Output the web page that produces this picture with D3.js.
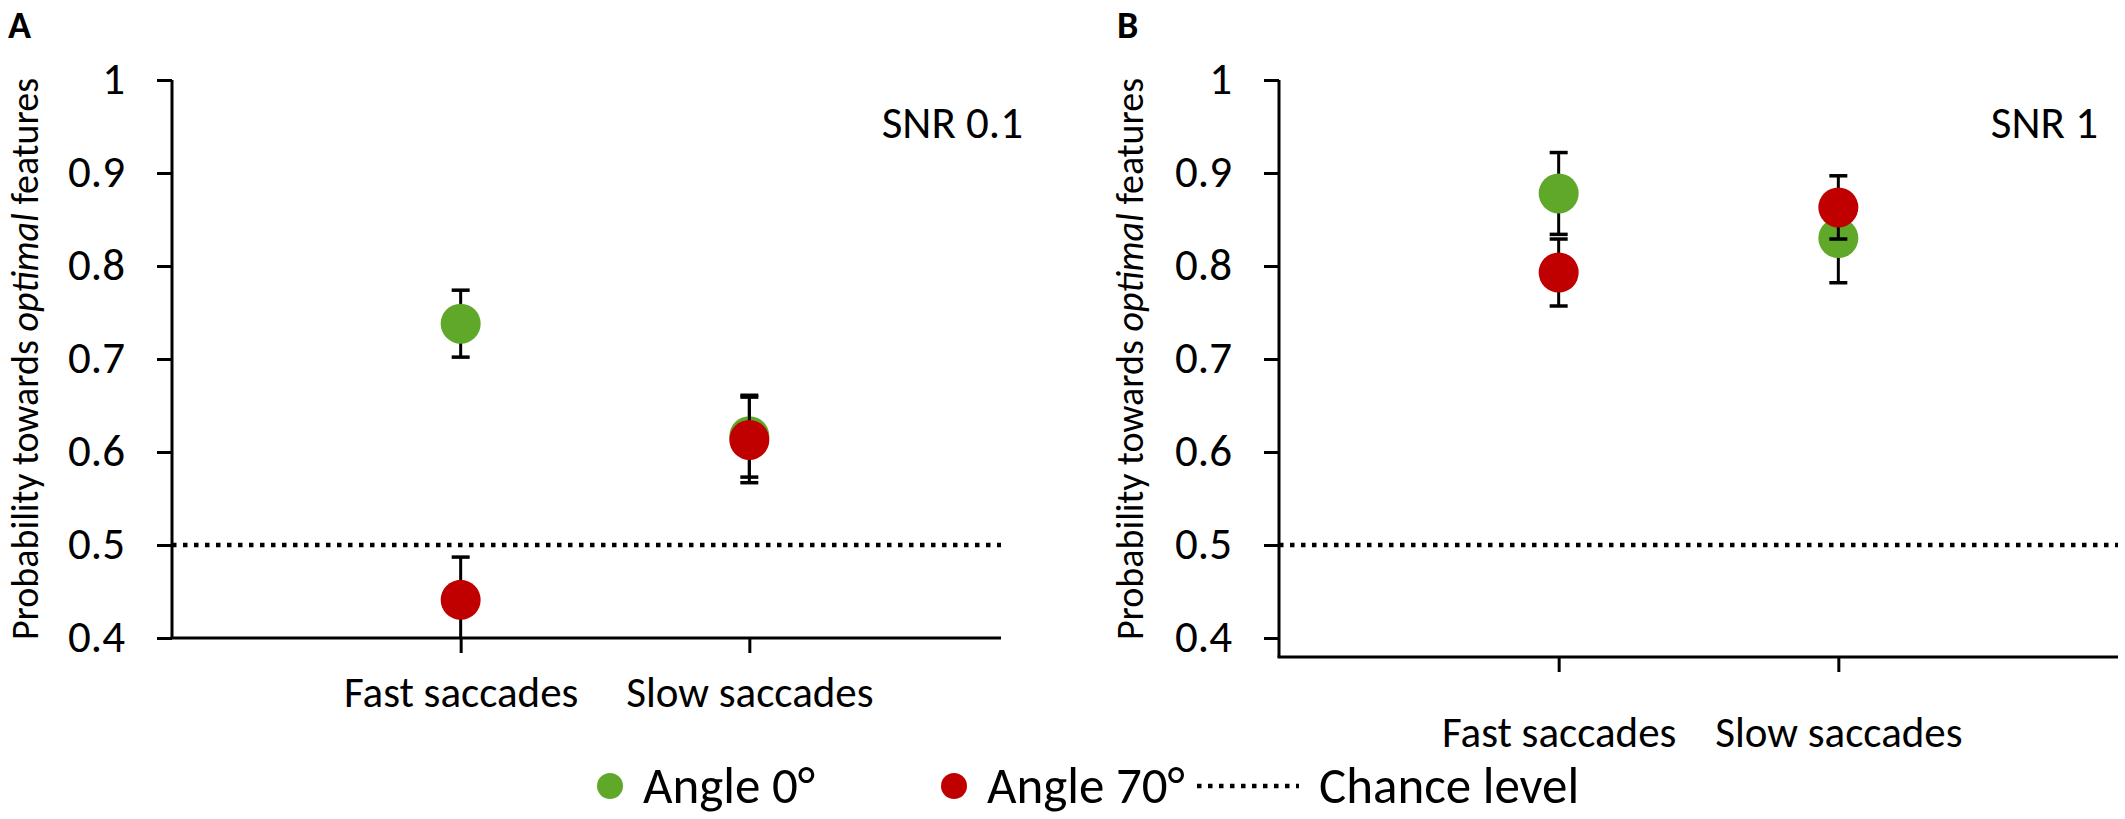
<!DOCTYPE html>
<html>
<head>
<meta charset="utf-8">
<script src="https://cdn.jsdelivr.net/npm/d3@7"></script>
<style>
  body { margin: 0; background: #fff; }
  text { font-family: Carlito, Calibri, Lato, sans-serif; fill: #000; }
</style>
</head>
<body>
<div id="chart"></div>
<script>
// categories and ticks
const categories = ["Fast saccades", "Slow saccades"];
const yTicks = [0.4, 0.5, 0.6, 0.7, 0.8, 0.9, 1];
const chanceLevel = 0.5;

// panel A, SNR 0.1
const aAngle0 = [0.738, 0.617];
const aAngle0Err = [0.036, 0.044];
const aAngle70 = [0.441, 0.613];
const aAngle70Err = [0.046, 0.046];

// panel B, SNR 1
const bAngle0 = [0.878, 0.830];
const bAngle0Err = [0.044, 0.048];
const bAngle70 = [0.793, 0.863];
const bAngle70Err = [0.036, 0.034];

const legendLabels = ["Angle 0°", "Angle 70°", "Chance level"];

const green = "#60a829";
const red = "#c00000";

const width = 2125, height = 819;

const svg = d3.select("#chart")
  .append("svg")
  .attr("width", width)
  .attr("height", height)
  .style("background", "#fff");

const y = d3.scaleLinear().domain([0.4, 1]).range([638, 80]);

const panels = [
  { id: "A", snr: "SNR 0.1", x0: 172, x1: 1038, xEnd: 1001, axisY: 638, snrX: 1023, titleX: 38, labelY: 69, letterX: 8,
    series: [[aAngle0, aAngle0Err, green], [aAngle70, aAngle70Err, red]] },
  { id: "B", snr: "SNR 1", x0: 1279, x1: 2118, xEnd: 2118, axisY: 657, snrX: 2098, titleX: 1143, labelY: 90, letterX: 1117,
    series: [[bAngle0, bAngle0Err, green], [bAngle70, bAngle70Err, red]] }
];

panels.forEach(p => {
  const g = svg.append("g");
  const x = d3.scalePoint().domain(categories).range([p.x0, p.x1]).padding(1);

  // clip for error bars
  g.append("clipPath").attr("id", "clip" + p.id)
    .append("rect")
    .attr("x", p.x0).attr("y", y(1) - 30)
    .attr("width", p.xEnd - p.x0).attr("height", y(0.4) - y(1) + 30);

  // y axis
  const yAxis = g.append("g")
    .attr("transform", `translate(${p.x0},0)`)
    .call(d3.axisLeft(y).tickValues(yTicks).tickSize(15).tickSizeOuter(0).tickPadding(32)
      .tickFormat(d => d === 1 ? "1" : d3.format(".1f")(d)));
  yAxis.select(".domain").remove();
  yAxis.append("line")
    .attr("y1", y(1)).attr("y2", p.axisY)
    .attr("stroke", "#000").attr("stroke-width", 3);
  yAxis.selectAll(".tick line").attr("stroke", "#000").attr("stroke-width", 3);
  yAxis.selectAll("text").attr("font-size", 45).attr("dy", "0.3em")
    .attr("font-family", "Carlito, Calibri, Lato, sans-serif");

  // x axis
  const xAxis = g.append("g")
    .attr("transform", `translate(0,${p.axisY})`)
    .call(d3.axisBottom(x).tickSize(15).tickSizeOuter(0));
  xAxis.select(".domain").remove();
  xAxis.append("line")
    .attr("x1", p.x0 - 1.5).attr("x2", p.xEnd)
    .attr("stroke", "#000").attr("stroke-width", 3);
  xAxis.selectAll(".tick line").attr("stroke", "#000").attr("stroke-width", 3);
  xAxis.selectAll("text").attr("font-size", 43).attr("y", p.labelY).attr("dy", 0)
    .attr("font-family", "Carlito, Calibri, Lato, sans-serif");

  // chance level
  g.append("line")
    .attr("x1", p.x0).attr("x2", p.xEnd)
    .attr("y1", y(chanceLevel)).attr("y2", y(chanceLevel))
    .attr("stroke", "#000").attr("stroke-width", 4.5)
    .attr("stroke-dasharray", "4.5,6.5");

  // series
  p.series.forEach(([vals, errs, color]) => {
    const pts = categories.map((c, i) => ({ c, v: vals[i], e: errs[i] }));
    const eb = g.append("g").attr("clip-path", `url(#clip${p.id})`)
      .selectAll("g").data(pts).join("g");
    eb.append("line")
      .attr("x1", d => x(d.c)).attr("x2", d => x(d.c))
      .attr("y1", d => y(d.v + d.e)).attr("y2", d => y(d.v - d.e))
      .attr("stroke", "#000").attr("stroke-width", 3);
    eb.append("line")
      .attr("x1", d => x(d.c) - 9).attr("x2", d => x(d.c) + 9)
      .attr("y1", d => y(d.v + d.e)).attr("y2", d => y(d.v + d.e))
      .attr("stroke", "#000").attr("stroke-width", 3.5);
    eb.filter(d => d.v - d.e >= 0.4).append("line")
      .attr("x1", d => x(d.c) - 9).attr("x2", d => x(d.c) + 9)
      .attr("y1", d => y(d.v - d.e)).attr("y2", d => y(d.v - d.e))
      .attr("stroke", "#000").attr("stroke-width", 3.5);
    g.append("g").selectAll("circle").data(pts).join("circle")
      .attr("cx", d => x(d.c)).attr("cy", d => y(d.v))
      .attr("r", 20).attr("fill", color);
  });

  // SNR label
  g.append("text").attr("x", p.snrX).attr("y", 138)
    .attr("text-anchor", "end").attr("font-size", 45).text(p.snr);

  // y title
  const title = g.append("text")
    .attr("transform", `translate(${p.titleX},${(y(1) + y(0.4)) / 2}) rotate(-90)`)
    .attr("text-anchor", "middle").attr("font-size", 38);
  title.append("tspan").text("Probability towards ");
  title.append("tspan").attr("font-style", "italic").text("optimal");
  title.append("tspan").text(" features");

  // panel letter
  g.append("text").attr("x", p.letterX).attr("y", 38)
    .attr("font-family", "Liberation Sans, Arial, sans-serif")
    .attr("font-weight", "bold").attr("font-size", 38).text(p.id);
});

// legend
const legend = svg.append("g").attr("transform", "translate(0,786)");
const legendColors = [green, red, null];
const legendX = [610, 954, 1197];
legendLabels.forEach((lab, i) => {
  const lg = legend.append("g").attr("transform", `translate(${legendX[i]},0)`);
  let tx;
  if (legendColors[i]) {
    lg.append("circle").attr("r", 13).attr("fill", legendColors[i]);
    tx = 33;
  } else {
    lg.append("line").attr("x1", 0).attr("x2", 102)
      .attr("stroke", "#000").attr("stroke-width", 4.5).attr("stroke-dasharray", "4.5,6.5");
    tx = 122;
  }
  lg.append("text").attr("x", tx).attr("y", 17).attr("font-size", 51).text(lab);
});
</script>
</body>
</html>
